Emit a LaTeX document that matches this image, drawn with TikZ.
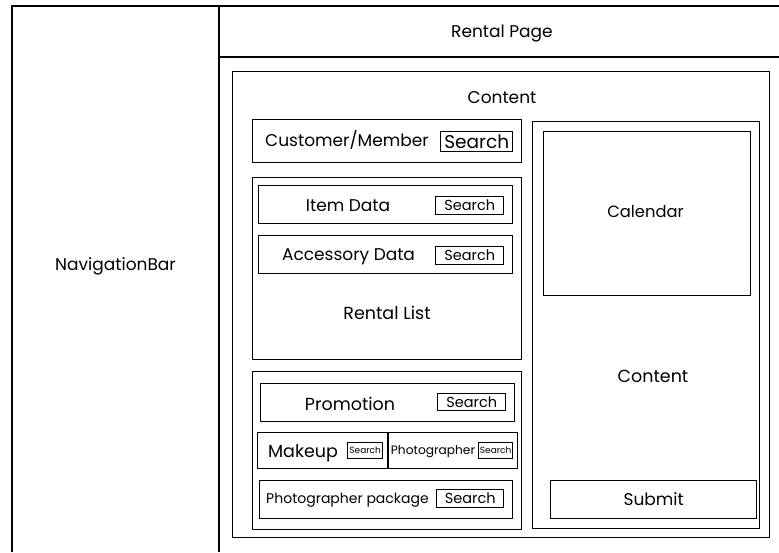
\documentclass[tikz,border=0pt]{standalone}
\usepackage{fontspec}
\setmainfont{Poppins}
\begin{document}
\begin{tikzpicture}[x=1pt,y=-1pt,
  box/.style={draw, line width=1.4pt, inner sep=0pt, anchor=north west},
  lbl/.style={inner sep=0pt, anchor=base, font=\fontsize{#1}{#1}\selectfont, yshift={-0.35*#1pt}},
  lbl/.default=17]
\useasboundingbox (0,0) rectangle (779,552);
% frame
\coordinate (tl) at (12,6);
\coordinate (tr) at (779,6);
\coordinate (bl) at (12,552);
\coordinate (dt) at (219,6);
\coordinate (db) at (219,552);
\coordinate (hl) at (219,57);
\coordinate (hr) at (779,57);
\draw[line width=1.4pt] (bl) -- (tl) -- (tr);
\draw[line width=1.9pt] (dt) -- (db);
\draw[line width=2.8pt] (hl) -- (hr);
\node[lbl] (nav) at (115.5,265) {NavigationBar};
\node[lbl] (title) at (502,32) {Rental Page};
% content
\node[box, minimum width=537pt, minimum height=466pt] (content) at (232,71) {};
\node[lbl] (contentlbl) at (502,98) {Content};
% customer
\node[box, minimum width=269pt, minimum height=43pt] (cust) at (252,119) {};
\node[lbl, anchor=base west] (custlbl) at (265,141) {Customer/Member};
\node[box, minimum width=72pt, minimum height=20pt] (custs) at (440,131) {};
\node[lbl=18.5] at (custs.center) {Search};
% rental list
\node[box, minimum width=269pt, minimum height=182pt] (rlist) at (252,177) {};
\node[lbl=17.5] (rlistlbl) at (387,313) {Rental List};
\node[box, minimum width=254pt, minimum height=38pt] (item) at (258,185) {};
\node[lbl] (itemlbl) at (348,206) {Item Data};
\node[box, minimum width=68pt, minimum height=18pt] (items) at (435,196) {};
\node[lbl=14.5] at (items.center) {Search};
\node[box, minimum width=254pt, minimum height=38pt] (acc) at (258,235) {};
\node[lbl] (acclbl) at (348.5,255) {Accessory Data};
\node[box, minimum width=68pt, minimum height=18pt] (accs) at (435,246) {};
\node[lbl=14.5] at (accs.center) {Search};
% group
\node[box, minimum width=269pt, minimum height=158pt] (grp) at (252,371) {};
\node[box, minimum width=254pt, minimum height=38pt] (promo) at (260,383) {};
\node[lbl=17.5] (promolbl) at (350,404) {Promotion};
\node[box, minimum width=68pt, minimum height=17pt] (promos) at (437,393) {};
\node[lbl=14.5] at (promos.center) {Search};
\node[box, minimum width=130pt, minimum height=36pt] (makeup) at (257,432) {};
\node[lbl=17.5] (makeuplbl) at (303,451) {Makeup};
\node[box, minimum width=35pt, minimum height=16pt] (makeups) at (347,442) {};
\node[lbl=9] at (makeups.center) {Search};
\node[box, minimum width=129pt, minimum height=36pt] (photo) at (388,432) {};
\node[lbl=12.2] (photolbl) at (433,450) {Photographer};
\node[box, minimum width=34pt, minimum height=16pt] (photos) at (478,442) {};
\node[lbl=9] at (photos.center) {Search};
\node[box, minimum width=253pt, minimum height=38pt] (pkg) at (259,480) {};
\node[lbl=14] (pkglbl) at (347.5,499) {Photographer package};
\node[box, minimum width=67pt, minimum height=18pt] (pkgs) at (436,489) {};
\node[lbl=14.5] at (pkgs.center) {Search};
% right column
\node[box, minimum width=227pt, minimum height=407pt] (right) at (532,121) {};
\node[box, minimum width=207pt, minimum height=164pt] (cal) at (543,131) {};
\node[lbl=16.3] (callbl) at (645.5,212) {Calendar};
\node[lbl=17.5] (rcontent) at (653,376) {Content};
\node[box, minimum width=206pt, minimum height=38pt] (submit) at (550,480) {};
\node[lbl] at (submit.center) {Submit};
\end{tikzpicture}
\end{document}
